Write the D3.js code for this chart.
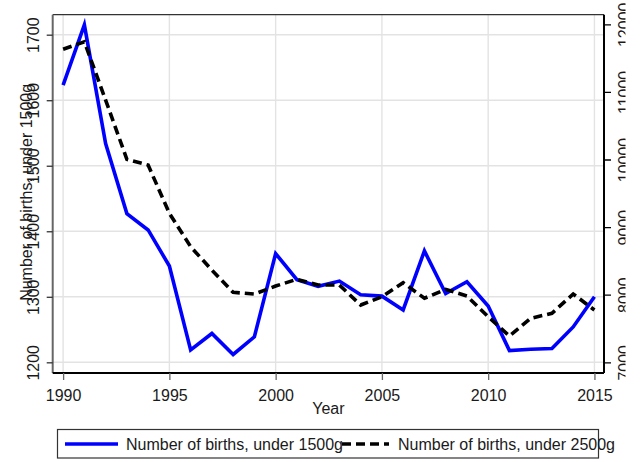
<!DOCTYPE html>
<html>
<head>
<meta charset="utf-8">
<script src="https://cdn.jsdelivr.net/npm/d3@7"></script>
<style>
  html, body { margin: 0; padding: 0; background: #fff; }
  svg { display: block; font-family: "Liberation Sans", Arial, sans-serif; }
</style>
</head>
<body>
<svg id="chart" width="642" height="462"></svg>
<script>
// Annual counts of low-birth-weight births
const years = [1990,1991,1992,1993,1994,1995,1996,1997,1998,1999,2000,2001,2002,
               2003,2004,2005,2006,2007,2008,2009,2010,2011,2012,2013,2014,2015];
const under1500 = [1623,1715,1534,1427,1402,1347,1219,1244,1212,1239,1366,1326,1316,
                   1324,1303,1301,1280,1370,1305,1323,1286,1218,1220,1221,1254,1300];
const under2500 = [11630,11742,10879,10002,9918,9204,8710,8365,8035,8010,8128,8228,8143,
                   8143,7847,7970,8177,7947,8080,7981,7674,7389,7651,7725,8010,7774];
const xTicks = [1990,1995,2000,2005,2010,2015];
const yLeftTicks = [1200,1300,1400,1500,1600,1700];
const yRightTicks = [7000,8000,9000,10000,11000,12000];
const seriesNames = ["Number of births, under 1500g", "Number of births, under 2500g"];
const xTitle = "Year";
const yTitle = "Number of births, under 1500g";

const svg = d3.select("#chart");
const plot = { left: 52.7, right: 604, top: 14.7, bottom: 373 };

const x = d3.scaleLinear().domain([1989.51, 2015.45]).range([plot.left, plot.right]);
const yL = d3.scaleLinear().domain([1183.7, 1730.5]).range([plot.bottom, plot.top]);
const yR = d3.scaleLinear().domain([6841.7, 12142]).range([plot.bottom, plot.top]);

const font = 16;
const textColor = "#1a1a1a";

// the graph region ends a little past the right axis labels
svg.append("defs").append("clipPath").attr("id", "graph-region")
  .append("rect").attr("x", 0).attr("y", 0).attr("width", 625.5).attr("height", 462);

// grid lines
const grid = svg.append("g").attr("stroke", "#e3e3e3").attr("stroke-width", 1.4);
grid.selectAll(".gy").data(yLeftTicks).join("line")
  .attr("x1", plot.left).attr("x2", plot.right)
  .attr("y1", d => yL(d)).attr("y2", d => yL(d));
grid.selectAll(".gx").data(xTicks).join("line")
  .attr("y1", plot.top).attr("y2", plot.bottom)
  .attr("x1", d => x(d)).attr("x2", d => x(d));

// series lines
const line1500 = d3.line().x((d, i) => x(years[i])).y(d => yL(d));
const line2500 = d3.line().x((d, i) => x(years[i])).y(d => yR(d));

svg.append("path").datum(under1500)
  .attr("d", line1500).attr("fill", "none")
  .attr("stroke", "#0000ff").attr("stroke-width", 3.6)
  .attr("stroke-linejoin", "miter");

svg.append("path").datum(under2500)
  .attr("d", line2500).attr("fill", "none")
  .attr("stroke", "#000").attr("stroke-width", 3.6)
  .attr("stroke-dasharray", "9,5")
  .attr("stroke-linejoin", "miter");

// frame
svg.append("line").attr("x1", plot.left).attr("x2", plot.right)
  .attr("y1", plot.top).attr("y2", plot.top)
  .attr("stroke", "#333").attr("stroke-width", 1.3);

// left axis
const gL = svg.append("g").attr("transform", `translate(${plot.left},0)`)
  .call(d3.axisLeft(yL).tickValues(yLeftTicks).tickSize(6).tickFormat(d3.format("d")));
gL.select(".domain").attr("stroke", "#666").attr("stroke-width", 2)
  .attr("d", `M0,${plot.top}V${plot.bottom}`);
gL.selectAll(".tick line").attr("stroke", "#333").attr("stroke-width", 1.3);
gL.selectAll(".tick text")
  .attr("font-size", font).attr("fill", textColor)
  .attr("text-anchor", "middle")
  .attr("transform", "rotate(-90)")
  .attr("x", 0).attr("y", -13.5).attr("dy", 0)
  .attr("font-family", "Liberation Sans, Arial, sans-serif");

// right axis
const gR = svg.append("g").attr("clip-path", "url(#graph-region)")
  .append("g").attr("transform", `translate(${plot.right},0)`)
  .call(d3.axisRight(yR).tickValues(yRightTicks).tickSize(7).tickFormat(d3.format("d")));
gR.select(".domain").attr("stroke", "#000").attr("stroke-width", 2)
  .attr("d", `M0,${plot.top}V${plot.bottom}`);
gR.selectAll(".tick line").attr("stroke", "#000").attr("stroke-width", 1.3);
gR.selectAll(".tick text")
  .attr("font-size", font).attr("fill", textColor)
  .attr("text-anchor", "middle")
  .attr("transform", "rotate(-90)")
  .attr("x", 0).attr("y", 26).attr("dy", 0)
  .attr("font-family", "Liberation Sans, Arial, sans-serif");

// bottom axis
const gB = svg.append("g").attr("transform", `translate(0,${plot.bottom})`)
  .call(d3.axisBottom(x).tickValues(xTicks).tickSize(7).tickFormat(d3.format("d")));
gB.select(".domain").attr("stroke", "#000").attr("stroke-width", 2.2)
  .attr("d", `M${plot.left},0H${plot.right}`);
gB.selectAll(".tick line").attr("stroke", "#666").attr("stroke-width", 1.3);
gB.selectAll(".tick text")
  .attr("font-size", font).attr("fill", textColor)
  .attr("y", 27.5).attr("dy", 0)
  .attr("font-family", "Liberation Sans, Arial, sans-serif");

// axis titles
svg.append("text")
  .attr("x", (plot.left + plot.right) / 2).attr("y", 414)
  .attr("text-anchor", "middle").attr("font-size", font).attr("fill", textColor)
  .text(xTitle);

svg.append("text")
  .attr("transform", `translate(31.5,${(plot.top + plot.bottom) / 2 - 1.5}) rotate(-90)`)
  .attr("text-anchor", "middle").attr("font-size", font).attr("fill", textColor)
  .text(yTitle);

// legend
const legend = svg.append("g");
legend.append("rect")
  .attr("x", 57.5).attr("y", 429.5).attr("width", 541).attr("height", 28.5)
  .attr("fill", "#fff").attr("stroke", "#333").attr("stroke-width", 1.2);

const legendItems = [
  { name: seriesNames[0], x0: 65, x1: 118, tx: 126, color: "#0000ff", dash: null },
  { name: seriesNames[1], x0: 342, x1: 389, tx: 398, color: "#000", dash: "9,5" }
];
legendItems.forEach(it => {
  legend.append("line")
    .attr("x1", it.x0).attr("x2", it.x1).attr("y1", 444).attr("y2", 444)
    .attr("stroke", it.color).attr("stroke-width", 3.6)
    .attr("stroke-dasharray", it.dash);
  legend.append("text")
    .attr("x", it.tx).attr("y", 449.5)
    .attr("font-size", font).attr("fill", textColor)
    .text(it.name);
});
</script>
</body>
</html>
